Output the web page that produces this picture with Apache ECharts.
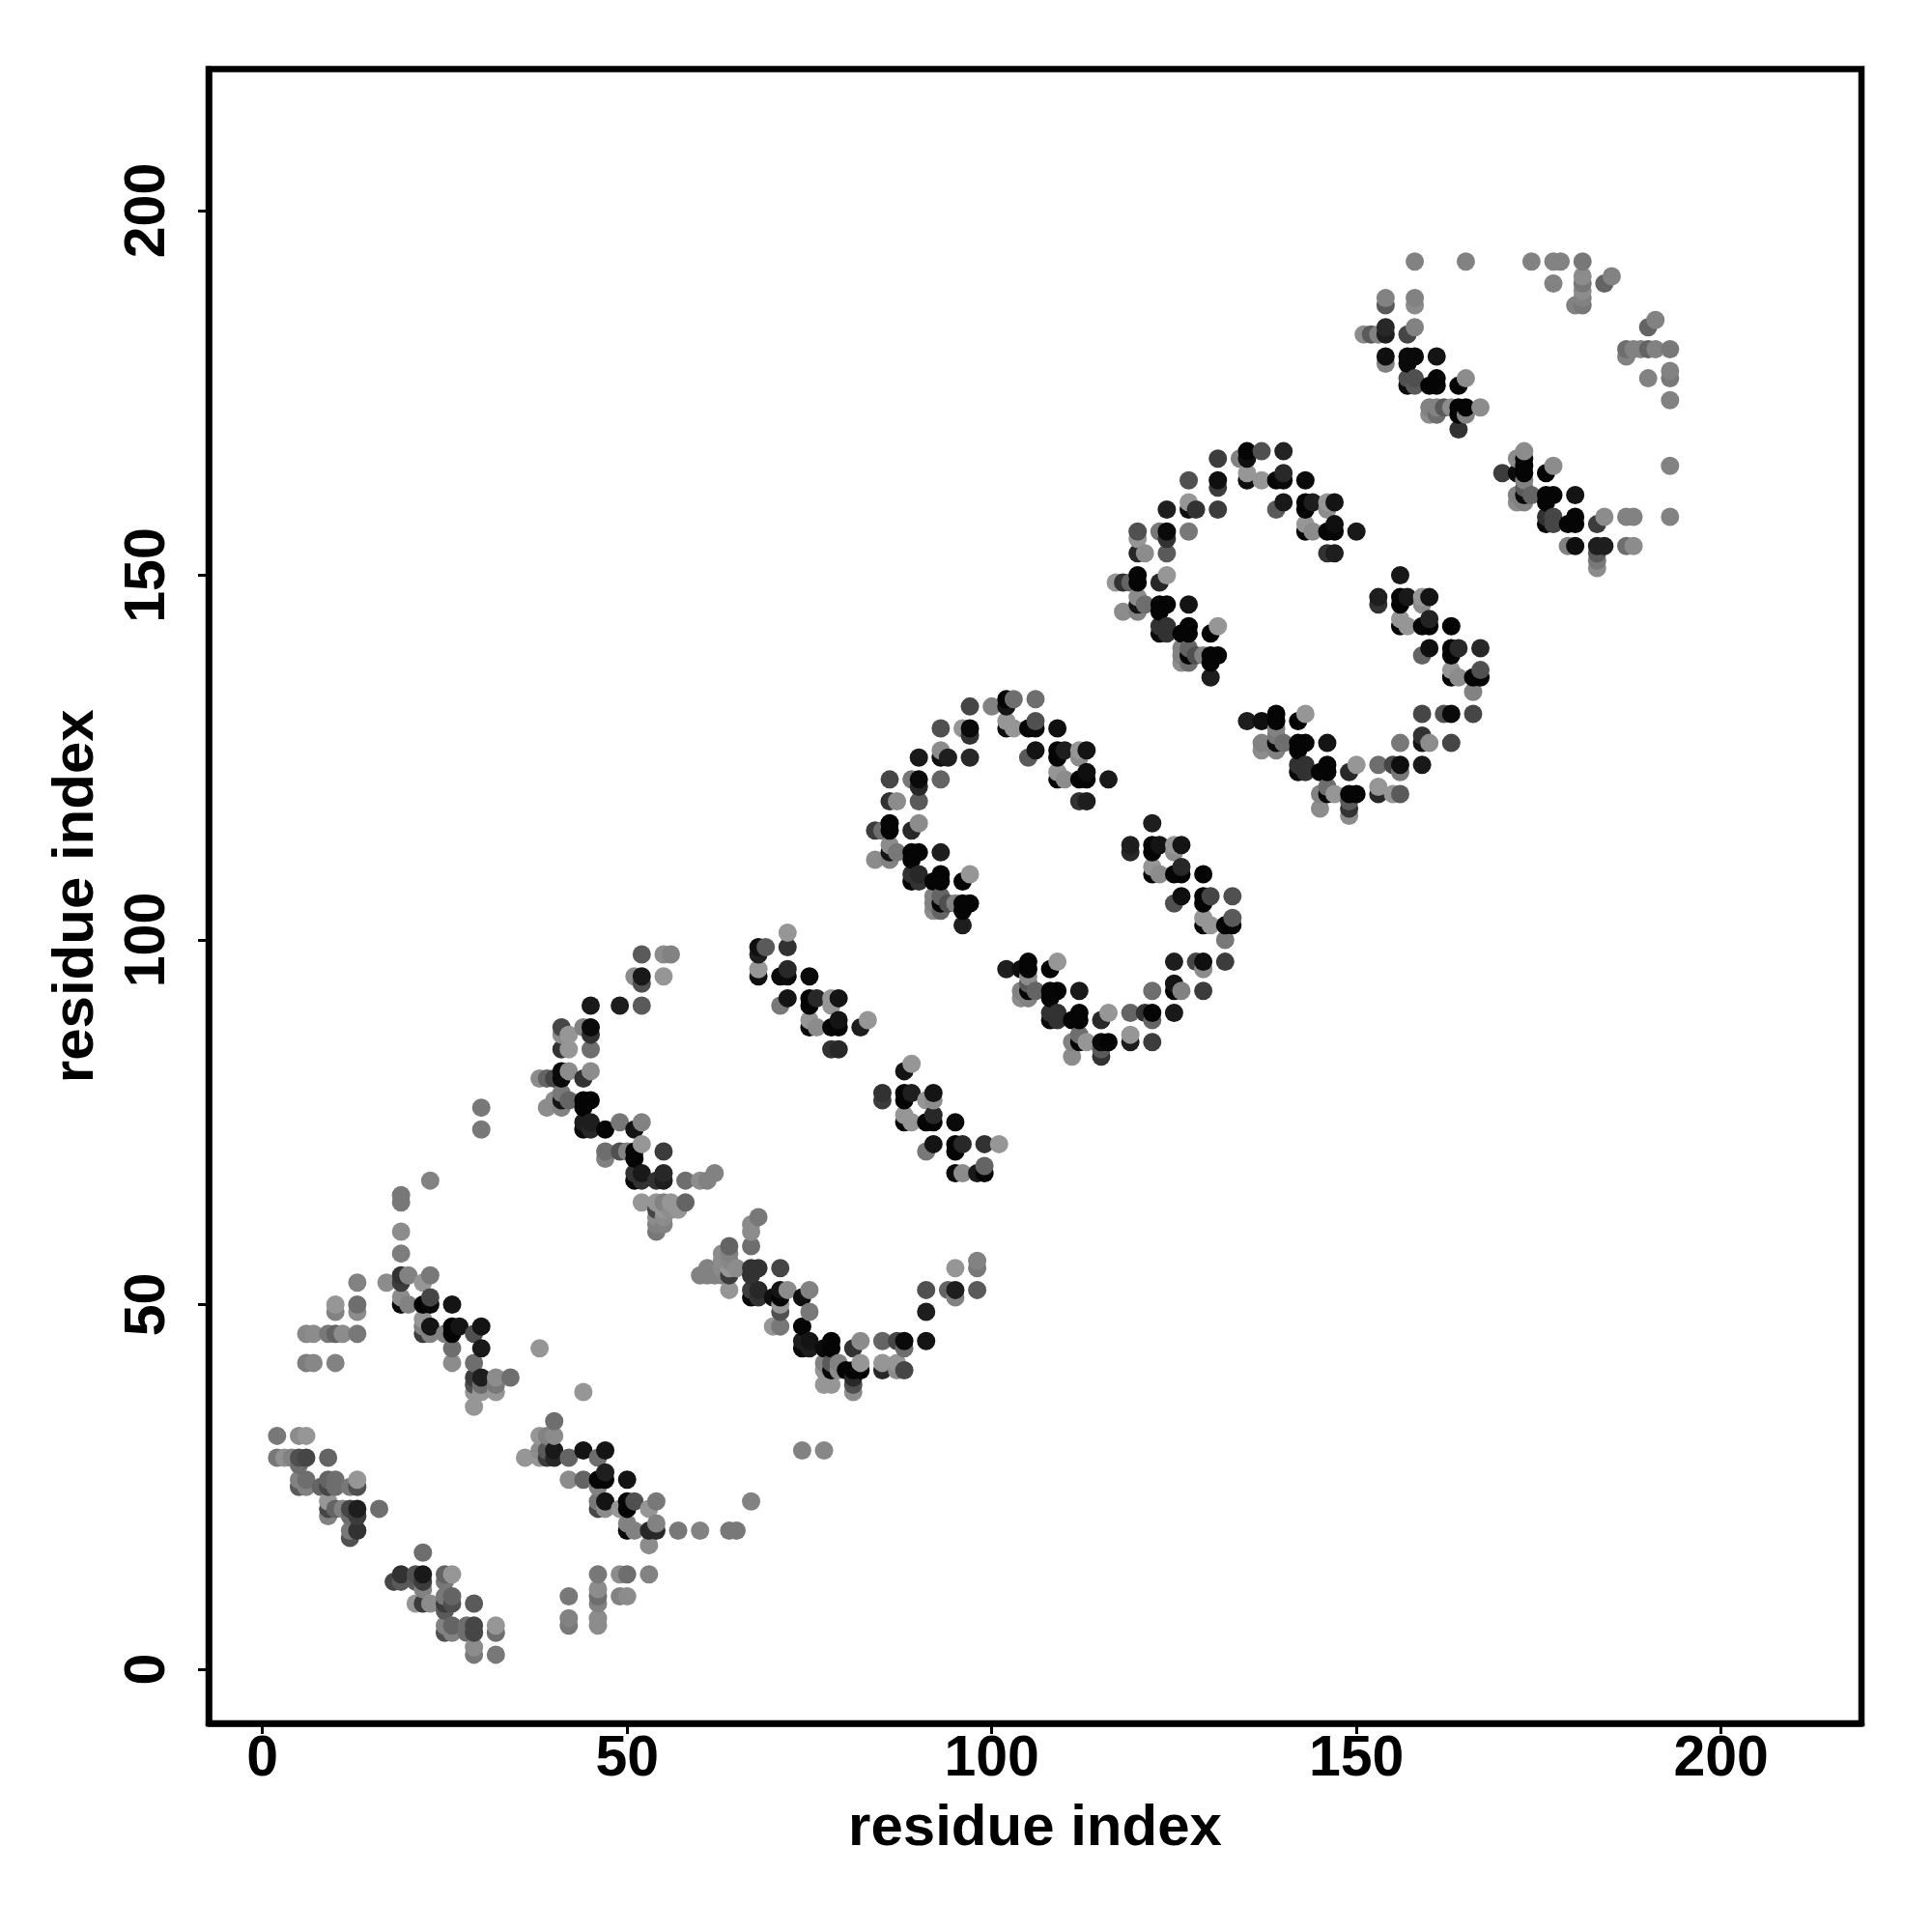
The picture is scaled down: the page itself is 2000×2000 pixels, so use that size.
<!DOCTYPE html>
<html><head><meta charset="utf-8">
<style>html,body{margin:0;padding:0;background:#fff}#c{width:2000px;height:2000px}</style>
<script src="https://cdn.jsdelivr.net/npm/echarts@6/dist/echarts.min.js"></script>
</head><body><div id="c"></div>
<script>
const axisTitle = 'residue index';
const tickValues = [0, 50, 100, 150, 200];
// each mark: [residue x, residue y, grey level]
const blockA = [[2,32,120],[5,32,140],[6,32,150],[2,29,120],[3,29,145],[4,29,130],[5,29,80],[6,29,70],[9,29,100],[5,28,110],[5,26,130],[6,26,110],[9,26,100],[10,26,110],[13,26,150],[5,25,90],[6,25,130],[8,25,100],[9,25,70],[10,25,110],[12,25,120],[13,25,80],[9,23,150],[9,22,70],[10,22,100],[11,22,130],[12,22,70],[13,22,30],[16,22,110],[9,21,130],[12,21,110],[13,21,60],[12,19,120],[13,19,50],[12,18,80]];
const blockB = [[22,16,110],[19,13,50],[21,13,80],[22,13,25],[25,13,100],[26,13,150],[18,12,70],[19,12,90],[21,12,90],[22,12,60],[25,12,120],[22,11,130],[25,10,120],[26,10,100],[21,9,150],[22,9,60],[23,9,140],[25,9,60],[26,9,80],[29,9,90],[25,8,90],[25,6,130],[26,6,100],[28,6,110],[29,6,70],[32,6,150],[25,5,80],[26,5,130],[28,5,110],[29,5,70],[32,5,110],[29,3,140],[29,2,120],[32,2,120]];
const blockC = [[13,53,130],[10,50,150],[13,50,110],[10,49,130],[13,49,140],[6,46,135],[7,46,140],[9,46,120],[10,46,100],[11,46,140],[13,46,120],[6,42,125],[7,42,135],[10,42,130]];
const blockD = [[30,77,120],[30,74,120],[23,67,130],[19,65,120],[19,64,120],[19,60,140],[19,57,125],[19,54,50],[20,54,130],[23,54,120],[17,53,140],[19,53,60],[22,53,150],[19,51,140],[23,51,70],[19,50,10],[20,50,130],[22,50,5],[23,50,10],[26,50,20],[22,48,150],[22,47,130],[23,47,20],[26,47,5],[27,47,20],[30,47,20],[22,46,60],[23,46,130],[25,46,130],[26,46,5],[29,46,80],[26,44,110],[30,44,25],[26,42,140],[29,42,110],[29,40,60],[30,40,30],[32,40,140],[34,40,110],[29,39,80],[30,39,110],[32,39,120],[29,38,150],[30,38,150],[32,38,150],[29,36,150],[38,44,150],[44,38,150]];
const blockE = [[40,34,110],[38,32,150],[39,32,130],[40,32,140],[38,30,140],[39,30,90],[40,30,25],[44,30,20],[47,30,20],[36,29,150],[38,29,150],[39,29,60],[40,29,40],[42,29,100],[46,29,110],[47,27,30],[42,26,140],[44,26,100],[46,26,5],[47,26,5],[50,26,20],[46,25,130],[46,23,120],[47,23,20],[50,23,5],[51,23,80],[54,23,120],[67,23,130],[46,22,70],[47,22,140],[49,22,150],[50,22,5],[53,22,150],[50,20,130],[54,20,130],[50,19,5],[51,19,130],[53,19,40],[54,19,40],[57,19,120],[60,19,130],[64,19,120],[65,19,120],[53,17,140],[46,13,120],[49,13,140],[50,13,110],[53,13,130],[46,11,140],[42,10,120],[46,10,110],[49,10,130],[50,10,140],[46,9,130],[42,7,130],[46,7,140],[42,6,120],[46,6,140]];
const blockF = [[52,98,90],[55,98,140],[56,98,130],[51,95,140],[52,95,25],[55,95,150],[52,94,80],[45,91,25],[49,91,30],[52,91,90],[41,88,70],[44,88,130],[45,88,10],[41,87,140],[42,87,150],[45,87,50],[41,85,50],[42,85,150],[45,85,110],[41,82,10],[42,82,140],[45,82,140],[38,81,140],[39,81,100],[40,81,70],[41,81,10],[44,81,50],[41,79,120],[40,78,140],[41,78,20],[42,78,100],[44,78,5],[45,78,5],[39,77,140],[41,77,130],[44,77,5],[44,75,30],[45,75,30],[49,75,120],[52,75,130],[44,74,10],[45,74,40],[47,74,5],[51,74,20],[52,72,150],[47,71,110],[49,71,80],[50,71,130],[51,71,5],[55,71,60],[47,70,130],[51,70,5],[51,68,50],[52,68,25],[55,68,40],[62,68,130],[51,67,10],[52,67,50],[54,67,50],[55,67,30],[58,67,110],[60,67,140],[61,67,130],[52,64,150],[54,64,150],[55,64,130],[56,64,150],[58,64,100],[54,63,70],[55,63,150],[56,63,140],[57,63,150],[54,62,140],[55,62,140],[54,61,130],[55,61,130],[54,60,120]];
const blockG = [[68,62,120],[67,61,140],[67,60,140],[67,58,110],[64,58,100],[63,57,140],[64,57,130],[63,56,140],[64,56,135],[61,55,130],[63,55,140],[64,55,150],[65,55,140],[67,55,50],[68,55,50],[71,55,70],[60,54,130],[61,54,130],[62,54,130],[63,54,130],[64,54,60],[67,54,50],[64,52,150],[67,52,60],[68,52,40],[71,52,20],[72,52,140],[75,52,130],[67,51,10],[68,51,50],[70,51,15],[71,51,5],[74,51,15],[71,50,150],[71,49,80],[75,49,120],[70,47,150],[71,47,120],[74,47,5],[74,45,30],[75,45,20],[78,45,5],[82,45,140],[85,45,100],[87,45,70],[88,45,10],[91,45,20],[74,44,10],[75,44,30],[77,44,10],[78,44,5],[81,44,50],[88,44,110],[77,42,130],[78,42,90],[79,42,130],[82,42,150],[85,42,150],[87,42,150],[77,41,150],[78,41,10],[79,41,140],[80,41,5],[81,41,5],[82,41,5],[85,41,40],[87,41,140],[88,41,70],[81,40,40],[77,39,150],[78,39,150],[81,39,80],[81,38,140],[91,52,80],[94,52,100],[95,52,30],[98,52,90],[95,51,130],[91,49,30],[95,55,150],[98,55,120],[98,56,130],[74,30,130],[77,30,135]];
const blockH = [[72,101,150],[68,99,15],[69,99,90],[72,99,50],[68,98,30],[68,96,150],[72,96,40],[68,95,15],[71,95,10],[72,95,10],[75,95,10],[72,92,20],[75,92,5],[76,92,40],[78,92,150],[79,92,20],[71,91,120],[75,91,5],[78,91,150],[75,89,150],[79,89,20],[83,89,150],[75,88,10],[76,88,140],[78,88,5],[79,88,5],[82,88,30],[78,85,50],[79,85,40],[89,83,150],[88,82,20],[85,79,50],[88,79,5],[89,79,30],[92,79,20],[85,78,60],[88,78,5],[91,78,150],[92,78,140],[88,76,150],[92,76,40],[88,75,5],[89,75,150],[91,75,5],[92,75,5],[95,75,10],[92,72,20],[95,72,5],[96,72,40],[99,72,50],[101,72,150],[91,71,120],[95,71,5],[99,69,100],[95,68,10],[96,68,140],[98,68,25],[99,68,5]];
const blockI = [[102,133,5],[103,133,110],[106,133,110],[97,132,70],[100,132,130],[102,132,20],[102,130,150],[106,130,80],[93,129,80],[96,129,150],[97,129,10],[102,129,15],[103,129,150],[105,129,5],[106,129,10],[109,129,15],[97,128,50],[93,126,140],[106,126,20],[109,126,5],[110,126,30],[112,126,150],[113,126,20],[90,125,25],[93,125,15],[94,125,30],[97,125,40],[105,125,90],[109,125,5],[112,125,140],[109,123,150],[113,123,15],[86,122,70],[89,122,120],[90,122,10],[93,122,100],[109,122,5],[110,122,140],[112,122,5],[113,122,5],[116,122,25],[90,121,40],[86,119,50],[87,119,140],[90,119,90],[112,119,50],[113,119,30],[86,116,5],[90,116,140],[84,115,60],[85,115,110],[86,115,5],[89,115,40],[86,113,140],[86,112,20],[87,112,120],[89,112,5],[90,112,5],[93,112,30],[84,111,140],[86,111,130],[89,111,5],[89,109,50],[90,109,40],[93,109,5],[97,109,150],[89,108,5],[90,108,50],[92,108,5],[93,108,5],[96,108,5],[92,106,130],[93,106,100],[92,105,130],[93,105,5],[94,105,80],[95,105,130],[96,105,5],[97,105,5],[92,104,140],[93,104,100],[96,104,5],[96,102,30]];
const blockJ = [[122,116,30],[119,113,30],[122,113,5],[123,113,20],[125,113,150],[126,113,20],[119,112,40],[122,112,5],[125,112,140],[122,110,150],[126,110,40],[122,109,5],[123,109,140],[125,109,5],[126,109,5],[129,109,5],[126,106,15],[129,106,5],[130,106,70],[133,106,80],[125,105,80],[129,105,5],[129,103,150],[133,103,90],[129,102,5],[130,102,150],[132,102,5],[133,102,5],[132,100,120],[125,97,30],[128,97,70],[129,97,15],[132,97,60],[129,96,140],[125,94,20],[122,93,110],[125,93,5],[126,93,130],[129,93,60],[119,90,100],[121,90,50],[122,90,5],[125,90,25],[122,89,100],[119,87,150],[119,86,30],[122,86,60],[109,97,150],[105,97,5],[102,96,30],[104,96,15],[105,96,5],[108,96,5],[105,95,140],[105,94,90],[104,93,130],[105,93,5],[106,93,100],[108,93,5],[109,93,5],[112,93,25],[104,92,140],[105,92,130],[108,92,5],[108,90,50],[109,90,50],[112,90,5],[116,90,150],[108,89,10],[109,89,50],[111,89,5],[112,89,5],[115,89,40],[112,87,110],[111,86,130],[112,86,5],[113,86,150],[115,86,10],[116,86,5],[115,85,90],[111,84,140],[115,84,50]];
const blockK = [[135,167,5],[137,167,80],[140,167,35],[131,166,60],[134,166,130],[135,166,15],[135,164,150],[140,164,40],[127,163,80],[131,163,15],[135,163,15],[137,163,150],[139,163,5],[140,163,10],[143,163,10],[131,162,60],[127,160,150],[140,160,25],[143,160,5],[144,160,30],[146,160,150],[147,160,20],[124,159,30],[127,159,15],[128,159,50],[131,159,60],[139,159,90],[143,159,5],[146,159,140],[143,157,150],[147,157,15],[120,156,80],[123,156,120],[124,156,10],[127,156,120],[143,156,5],[144,156,140],[146,156,5],[147,156,5],[150,156,25],[120,155,150],[124,155,50],[120,153,40],[121,153,140],[124,153,90],[146,153,50],[147,153,30],[120,150,5],[124,150,150],[117,149,150],[118,149,50],[119,149,100],[120,149,5],[123,149,40],[120,147,140],[120,146,20],[121,146,110],[123,146,5],[124,146,5],[127,146,20],[118,145,140],[120,145,130],[123,145,5],[123,143,50],[124,143,50],[127,143,5],[131,143,150],[123,142,10],[124,142,50],[126,142,5],[127,142,5],[130,142,5],[126,140,130],[127,140,100],[126,139,130],[127,139,5],[128,139,80],[129,139,130],[130,139,5],[131,139,5],[126,138,140],[127,138,110],[130,138,5],[130,136,30]];
const blockL = [[156,150,25],[153,147,30],[156,147,5],[157,147,25],[159,147,150],[160,147,20],[153,146,50],[156,146,5],[159,146,140],[156,144,150],[160,144,35],[156,143,5],[157,143,150],[159,143,5],[160,143,5],[163,143,5],[160,140,15],[163,140,5],[164,140,40],[167,140,40],[159,139,100],[163,139,5],[163,137,150],[167,137,80],[163,136,5],[164,136,140],[166,136,5],[167,136,5],[166,134,130],[159,131,70],[162,131,80],[163,131,10],[166,131,70],[159,128,50],[156,127,120],[159,127,20],[160,127,140],[163,127,70],[153,124,110],[155,124,70],[156,124,15],[159,124,25],[156,123,120],[153,121,150],[153,120,40],[155,120,150],[156,120,90],[143,131,150],[139,131,5],[135,130,30],[137,130,15],[139,130,5],[142,130,5],[139,129,130],[139,128,120],[137,127,130],[139,127,10],[140,127,110],[142,127,5],[143,127,5],[146,127,20],[137,126,140],[139,126,130],[142,126,5],[142,124,50],[143,124,50],[146,124,5],[150,124,150],[142,123,10],[143,123,50],[145,123,5],[146,123,5],[149,123,40],[146,121,110],[145,120,130],[146,120,5],[147,120,150],[149,120,5],[150,120,5],[149,119,90],[145,118,140],[149,118,50],[149,117,140]];
const blockM = [[158,193,130],[165,193,130],[174,193,130],[177,193,130],[178,193,130],[181,193,120],[185,191,130],[181,191,140],[177,190,130],[181,190,120],[184,190,100],[181,189,140],[154,188,130],[158,188,130],[181,188,130],[154,187,90],[158,187,140],[180,187,130],[181,187,120],[191,185,130],[154,184,40],[158,184,130],[190,184,100],[151,183,140],[152,183,90],[153,183,130],[154,183,30],[157,183,70],[187,181,110],[188,181,130],[189,181,130],[190,181,100],[191,181,130],[193,181,120],[154,180,15],[157,180,10],[158,180,10],[161,180,20],[187,180,130],[154,179,130],[157,179,10],[193,178,130],[157,177,80],[158,177,80],[161,177,5],[165,177,140],[190,177,130],[193,177,120],[157,176,10],[158,176,90],[160,176,5],[161,176,5],[164,176,5],[193,174,130],[160,173,130],[161,173,130],[162,173,90],[163,173,140],[164,173,5],[165,173,5],[167,173,140],[160,172,140],[161,172,110],[164,172,5],[165,172,130],[164,170,50]];
const blockN = [[173,167,140],[172,166,140],[173,166,5],[173,165,5],[177,165,140],[193,165,130],[170,164,60],[172,164,10],[173,164,5],[176,164,5],[173,163,130],[173,162,90],[172,161,130],[173,161,10],[174,161,100],[176,161,5],[177,161,5],[180,161,20],[172,160,140],[173,160,130],[176,160,5],[176,158,50],[177,158,70],[180,158,5],[184,158,140],[187,158,130],[188,158,130],[193,158,130],[176,157,5],[177,157,70],[179,157,5],[180,157,5],[183,157,60],[179,154,130],[180,154,15],[183,154,30],[184,154,30],[187,154,110],[188,154,140],[183,153,90],[183,152,120],[183,151,140]];
const allMarks = [...blockA, ...blockB, ...blockC, ...blockD, ...blockE, ...blockF, ...blockG, ...blockH, ...blockI, ...blockJ, ...blockK, ...blockL, ...blockM, ...blockN]
  .sort((p, q) => p[0] - q[0] || p[1] - q[1]);

const font = '"Liberation Sans", Arial, sans-serif';
const mkAxis = (isY) => ({
  type: 'value',
  min: isY ? -7.42 : -7.38,
  max: isY ? 219.4 : 219.25,
  name: axisTitle,
  nameLocation: 'middle',
  nameRotate: isY ? 90 : 0,
  nameGap: isY ? 107 : 79,
  nameTextStyle: { fontFamily: font, fontWeight: 'bold', fontSize: 60, color: '#000' },
  splitLine: { show: false },
  axisLine: { show: true, onZero: false, lineStyle: { color: '#000', width: 6.5 } },
  axisTick: { show: true, inside: false, length: 11, customValues: tickValues, lineStyle: { color: '#000', width: 3 } },
  axisLabel: { show: true, rotate: isY ? 90 : 0, margin: isY ? 62 : 8, customValues: tickValues,
    fontFamily: font, fontWeight: 'bold', fontSize: 59, color: '#000',
    hideOverlap: false, showMinLabel: true, showMaxLabel: true, verticalAlign: isY ? 'middle' : 'top' }
});
const chart = echarts.init(document.getElementById('c'), null, { renderer: 'canvas', width: 2000, height: 2000 });
chart.setOption({
  animation: false,
  backgroundColor: '#fff',
  grid: { left: 216, right: 73, top: 71.5, bottom: 216, show: true, borderColor: '#000', borderWidth: 6.5, backgroundColor: 'transparent', containLabel: false },
  xAxis: mkAxis(false),
  yAxis: mkAxis(true),
  series: [{
    type: 'scatter',
    data: allMarks,
    symbol: 'circle',
    symbolSize: 19,
    encode: { x: 0, y: 1 },
    itemStyle: { opacity: 1, color: (p) => { const g = Math.round(p.value[2]); return `rgb(${g},${g},${g})`; } }
  }]
});
</script></body></html>
